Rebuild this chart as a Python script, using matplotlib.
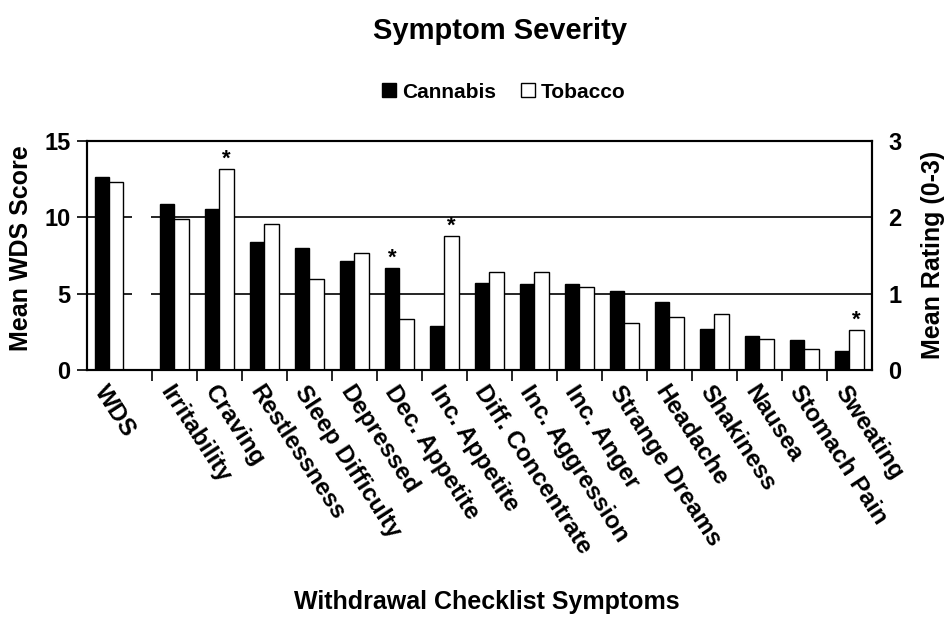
import matplotlib
matplotlib.use('Agg')
import matplotlib.pyplot as plt
from matplotlib.patches import Patch

plt.rcParams['font.family'] = ['Liberation Sans', 'DejaVu Sans']
plt.rcParams['font.weight'] = 'bold'

# ---- data ----
wds_label = 'WDS'
wds_cannabis = 12.6
wds_tobacco = 12.3
symptoms = ['Irritability', 'Craving', 'Restlessness', 'Sleep Difficulty', 'Depressed',
            'Dec. Appetite', 'Inc. Appetite', 'Diff. Concentrate', 'Inc. Aggression',
            'Inc. Anger', 'Strange Dreams', 'Headache', 'Shakiness', 'Nausea',
            'Stomach Pain', 'Sweating']
cannabis = [2.17, 2.11, 1.67, 1.59, 1.42, 1.34, 0.58, 1.14, 1.12, 1.12, 1.03, 0.89, 0.53, 0.44, 0.39, 0.25]
tobacco = [1.97, 2.63, 1.91, 1.19, 1.53, 0.67, 1.75, 1.28, 1.28, 1.09, 0.61, 0.69, 0.73, 0.41, 0.28, 0.52]
sig_cannabis = ['Dec. Appetite']
sig_tobacco = ['Craving', 'Inc. Appetite', 'Sweating']

# ---- layout ----
W, H = 949, 617
fig = plt.figure(figsize=(W / 100, H / 100), dpi=100)
ax = fig.add_axes([87 / W, 1 - 370 / H, (871.7 - 87) / W, (370 - 140.7) / H])
ax2 = ax.twinx()

bw = 0.32
xs = [i + 1 for i in range(len(symptoms))]
wds_x = -0.45

# gridlines (broken between WDS and symptom groups)
xmin, xmax = -0.938, 16.5
for yv in [5, 10]:
    ax.hlines(yv, xmin, 0.056, color='black', lw=1.2, zorder=0)
    ax.hlines(yv, 0.478, xmax, color='black', lw=1.2, zorder=0)

# WDS bars on left axis
ax.bar(wds_x - bw / 2, wds_cannabis, bw, color='black', edgecolor='black', lw=1.0, zorder=2)
ax.bar(wds_x + bw / 2, wds_tobacco, bw, color='white', edgecolor='black', lw=1.0, zorder=2)

# symptom bars on right axis
ax2.bar([x - bw / 2 for x in xs], cannabis, bw, color='black', edgecolor='black', lw=1.0, zorder=2)
ax2.bar([x + bw / 2 for x in xs], tobacco, bw, color='white', edgecolor='black', lw=1.0, zorder=2)

for name in sig_cannabis:
    i = symptoms.index(name)
    ax2.annotate('*', xy=(xs[i] - bw / 2, cannabis[i]), xytext=(0, 3), textcoords='offset points',
                 ha='center', va='baseline', fontsize=16, fontweight='bold')
for name in sig_tobacco:
    i = symptoms.index(name)
    ax2.annotate('*', xy=(xs[i] + bw / 2, tobacco[i]), xytext=(0, 3), textcoords='offset points',
                 ha='center', va='baseline', fontsize=16, fontweight='bold')

ax.set_xlim(xmin, xmax)
ax.set_ylim(0, 15)
ax2.set_ylim(0, 3)
ax.set_yticks([0, 5, 10, 15])
ax2.set_yticks([0, 1, 2, 3])

# x ticks: marks at group boundaries, labels at centres
ax.set_xticks([x - 0.5 for x in xs])
ax.set_xticklabels([])
ax.set_xticks([wds_x] + xs, minor=True)
ax.set_xticklabels([wds_label] + symptoms, minor=True)
ax.tick_params(axis='x', which='major', length=8, width=1.2, direction='out')
ax.tick_params(axis='x', which='minor', length=0, pad=8, labelsize=17.5)
for lab in ax.get_xticklabels(minor=True):
    lab.set_rotation(-57)
    lab.set_rotation_mode('anchor')
    lab.set_ha('left')
    lab.set_va('top')
    lab.set_fontweight('bold')

ax.tick_params(axis='y', length=7, width=1.2, direction='out', pad=5, labelsize=17)
ax2.tick_params(axis='y', length=0, pad=12, labelsize=17)
ax2.tick_params(axis='x', which='both', length=0)

for a in (ax, ax2):
    for s in a.spines.values():
        s.set_linewidth(1.5)

ax.set_ylabel('Mean WDS Score', fontsize=18, fontweight='bold')
ax.yaxis.set_label_coords(-54 / (871.7 - 87), (370 - 248) / (370 - 140.7))
ax2.set_ylabel('Mean Rating (0-3)', fontsize=18, fontweight='bold', labelpad=14)

fig.text(500 / W, 1 - 31 / H, 'Symptom Severity', ha='center', va='center', fontsize=21, fontweight='bold')
fig.text(487 / W, 1 - 609 / H, 'Withdrawal Checklist Symptoms', ha='center', va='baseline',
         fontsize=18, fontweight='bold')

handles = [Patch(facecolor='black', edgecolor='black'), Patch(facecolor='white', edgecolor='black')]
fig.legend(handles, ['Cannabis', 'Tobacco'], loc='center', bbox_to_anchor=(504 / W, 1 - 92 / H),
           ncol=2, frameon=False, handlelength=0.65, handleheight=0.65, handletextpad=0.3,
           columnspacing=1.2, prop={'size': 15, 'weight': 'bold'})

fig.savefig('out.png', dpi=100)
